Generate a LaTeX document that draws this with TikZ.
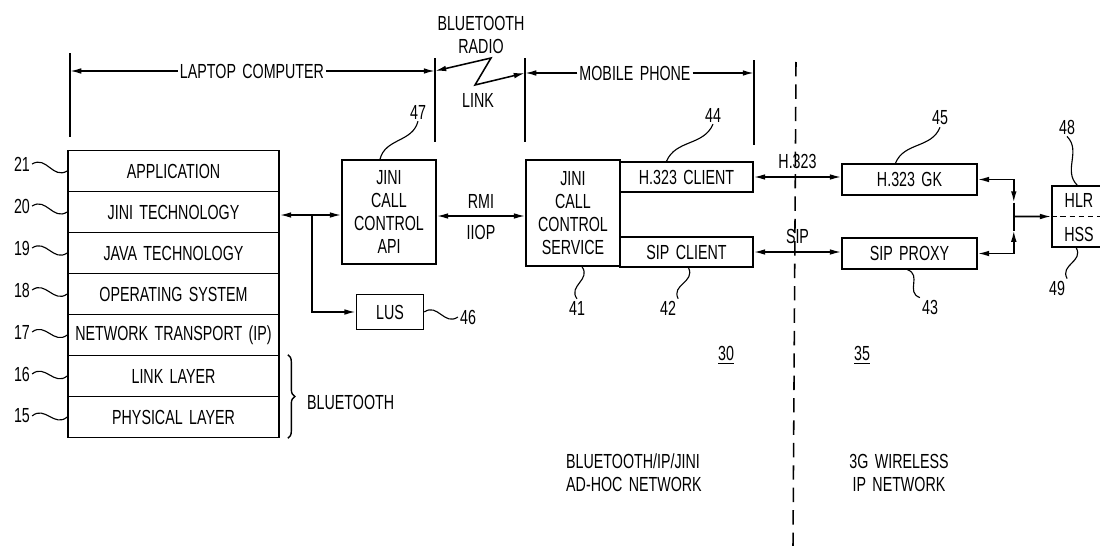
\documentclass[tikz,border=0pt]{standalone}
\usepackage{fontspec}
\setmainfont{Liberation Sans}[FakeStretch=0.7, WordSpace=1.6]
\usetikzlibrary{arrows.meta,calc,decorations.pathreplacing}
\begin{document}
\begin{tikzpicture}[
  x=0.025cm, y=-0.025cm,
  line width=1.1pt,
  every node/.style={font=\fontsize{14.5}{16.4}\selectfont, inner sep=1pt},
  stackrow/.style={draw, minimum width=5.275cm, minimum height=1.025cm, inner sep=0pt},
  blk/.style={draw, align=center, inner sep=0pt},
  arr/.style={-{Latex[length=8pt,width=4pt]}},
  darr/.style={{Latex[length=8pt,width=4pt]}-{Latex[length=8pt,width=4pt]}},
  wiggle/.style={line width=0.8pt, to path={.. controls ($(\tikztostart)!0.35!(\tikztotarget)!8pt!90:(\tikztotarget)$) and ($(\tikztostart)!0.65!(\tikztotarget)!8pt!-90:(\tikztotarget)$) .. (\tikztotarget)}}
]
\useasboundingbox (0,0) rectangle (1100,546);

% protocol stack of the laptop
\foreach \txt/\num [count=\i from 0] in {APPLICATION/21, JINI TECHNOLOGY/20, JAVA TECHNOLOGY/19, OPERATING SYSTEM/18, NETWORK TRANSPORT (IP)/17, LINK LAYER/16, PHYSICAL LAYER/15} {
  \node[stackrow] (l\num) at (173.5, 171+41*\i) {\txt};
  \node (n\num) at (22, 164+42*\i) {\num};
  \draw[wiggle] (n\num.east) to (l\num.west);
}
\draw[line width=1pt, decorate, decoration={brace, amplitude=5pt}]
  ($(l16.north east)+(8,0)$) -- ($(l15.south east)+(8,0)$);
\node[anchor=west] (bt) at (305,402) {BLUETOOTH};

% extent brackets at the top
\draw (70,53) -- (70,137);
\draw (435,58) -- (435,142);
\draw (525,58) -- (525,142);
\draw (754,60) -- (754,145);
\coordinate (lapA) at (70,71);
\coordinate (lapB) at (435,71);
\coordinate (phA) at (525,73);
\coordinate (phB) at (754,73);
\node (laptop) at (252,71) {LAPTOP COMPUTER};
\draw[arr] (laptop.west) -- (lapA);
\draw[arr] (laptop.east) -- (lapB);
\node (phone) at (635,73) {MOBILE PHONE};
\draw[arr] (phone.west) -- (phA);
\draw[arr] (phone.east) -- (phB);
\node[align=center] (radio) at (481,35) {BLUETOOTH\\RADIO};
\node (link) at (478,100) {LINK};
\coordinate (zzA) at (491,58);
\coordinate (zzB) at (475,85);
\draw[darr] (lapB) -- (zzA) -- (zzB) -- (phA);

% blocks
\node[blk, minimum width=2.35cm, minimum height=2.6cm] (api) at (389,212) {JINI\\CALL\\CONTROL\\API};
\node[blk, minimum width=1.675cm, minimum height=0.875cm] (lus) at (390,312) {LUS};
\node[blk, minimum width=2.35cm, minimum height=2.65cm] (svc) at (573,213) {JINI\\CALL\\CONTROL\\SERVICE};
\node[blk, minimum width=3.325cm, minimum height=0.75cm] (hcl) at (686.5,177) {H.323 CLIENT};
\node[blk, minimum width=3.325cm, minimum height=0.75cm] (scl) at (686.5,252) {SIP CLIENT};
\node[blk, minimum width=3.375cm, minimum height=0.775cm] (gk) at (909.5,179.5) {H.323 GK};
\node[blk, minimum width=3.375cm, minimum height=0.775cm] (prx) at (909.5,253.5) {SIP PROXY};
\node[draw, minimum width=1.95cm, minimum height=1.525cm] (hlr) at (1091,216.5) {};
\draw[line width=0.9pt, dash pattern=on 4pt off 2.5pt] (hlr.west) -- (hlr.east);
\node (hlrt) at (1079,200) {HLR};
\node (hsst) at (1079,234) {HSS};

% connections
\coordinate (jl) at ($(l20.east)+(32,3)$);
\draw[darr] ($(l20.east)+(0,3)$) -- (jl -| api.west);
\draw[arr] (jl) |- (lus.west);
\draw[darr] ($(api.east)+(0,4)$) -- ($(api.east -| svc.west)+(0,4)$)
  node[midway, above=4pt] {RMI} node[midway, below=5pt] {IIOP};
\draw[darr] (hcl.east) -- (hcl.east -| gk.west) node[midway, above=4pt] {H.323};
\draw[darr] (scl.east) -- (scl.east -| prx.west) node[midway, above=4pt] {SIP};
\coordinate (jr) at ($(gk.east)!0.5!(prx.east)+(36,0)$);
\coordinate (jrT) at ($(jr)+(0,-14)$);
\coordinate (jrB) at ($(jr)+(0,14)$);
\draw[darr] (gk.east) -| (jrT);
\draw[darr] (prx.east) -| (jrB);
\draw (jrT) -- (jrB);
\draw[arr] (jr) -- (hlr.west);

% reference numerals
\node (n47) at (418,112) {47};
\draw[wiggle] (n47.south) to ($(api.north)+(-9,0)$);
\node (n46) at (468,317) {46};
\draw[wiggle] (lus.east) to (n46.west);
\node (n44) at (713,115) {44};
\draw[wiggle] ($(hcl.north)+(-20,0)$) to (n44.south);
\node (n41) at (577,308) {41};
\draw[wiggle] ($(svc.south)+(9,0)$) to (n41.north);
\node (n42) at (668,308) {42};
\draw[wiggle] ($(scl.south)+(2,0)$) to (n42.north east);
\node (n45) at (940,118) {45};
\draw[wiggle] ($(gk.north)+(-14,0)$) to (n45.south);
\node (n43) at (930,307) {43};
\draw[wiggle] ($(prx.south)+(-2,0)$) to (n43.north west);
\node (n48) at (1067,127) {48};
\draw[wiggle] (n48.south) to ($(hlr.north west)+(26,0)$);
\node (n49) at (1057,288) {49};
\draw[wiggle] ($(hlr.south west)+(25,0)$) to (n49.north east);
\node (n30) at (726,355) {\underline{30}};
\node (n35) at (862,355) {\underline{35}};

% network boundary and captions
\draw[dash pattern=on 0.36cm off 0.2cm] (796,62) -- (793,546);
\node[align=left, anchor=west] (adhoc) at (564,473) {BLUETOOTH/IP/JINI\\AD-HOC NETWORK};
\node[align=center] (wless) at (899,473) {3G WIRELESS\\IP NETWORK};
\end{tikzpicture}
\end{document}
